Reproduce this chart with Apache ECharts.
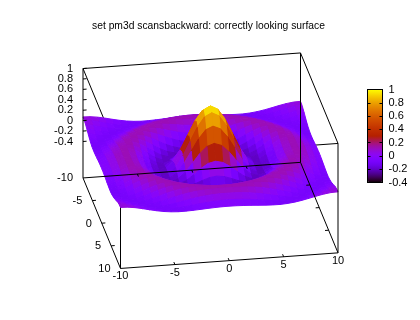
<!DOCTYPE html>
<html>
<head>
<meta charset="utf-8">
<style>html,body{margin:0;padding:0;background:#fff}#c{width:420px;height:320px}</style>
<script src="https://cdn.jsdelivr.net/npm/echarts@6/dist/echarts.min.js"></script>
</head>
<body>
<div id="c"></div>
<script>
// Surface heights read for one quadrant of the symmetric surface: rows from the centre outwards.
const zRow00=[1,.928,.729,.455,.171,-.057,-.189,-.214,-.152,-.047,.056,.118,.124,.079,.010,-.054];
const zRow01=[.928,.859,.669,.407,.139,-.075,-.195,-.212,-.147,-.040,.060,.120,.123,.077,.007,-.056];
const zRow02=[.729,.669,.504,.280,.054,-.121,-.209,-.204,-.129,-.022,.072,.124,.119,.070,0,-.061];
const zRow03=[.455,.407,.280,.109,-.057,-.175,-.217,-.184,-.097,.007,.090,.127,.112,.057,-.013,-.068];
const zRow04=[.171,.139,.054,-.057,-.156,-.212,-.207,-.147,-.053,.042,.109,.128,.099,.039,-.029,-.077];
const zRow05=[-.057,-.075,-.121,-.175,-.212,-.212,-.169,-.091,.001,.080,.124,.122,.079,.015,-.047,-.085];
const zRow06=[-.189,-.195,-.209,-.217,-.207,-.169,-.104,-.022,.056,.111,.128,.105,.052,-.013,-.066,-.090];
const zRow07=[-.214,-.212,-.204,-.184,-.147,-.091,-.022,.047,.102,.127,.118,.077,.018,-.041,-.081,-.091];
const zRow08=[-.152,-.147,-.129,-.097,-.053,.001,.056,.102,.126,.123,.091,.039,-.020,-.067,-.090,-.083];
const zRow09=[-.047,-.040,-.022,.007,.042,.080,.111,.127,.123,.095,.049,-.005,-.054,-.085,-.090,-.067];
const zRow10=[.056,.060,.072,.090,.109,.124,.128,.118,.091,.049,0,-.047,-.080,-.091,-.078,-.043];
const zRow11=[.118,.120,.124,.127,.128,.122,.105,.077,.039,-.005,-.047,-.078,-.091,-.082,-.054,-.013];
const zRow12=[.124,.123,.119,.112,.099,.079,.052,.018,-.020,-.054,-.080,-.091,-.084,-.059,-.022,.019];
const zRow13=[.079,.077,.070,.057,.039,.015,-.013,-.041,-.067,-.085,-.091,-.082,-.059,-.025,.013,.047];
const zRow14=[.010,.007,0,-.013,-.029,-.047,-.066,-.081,-.090,-.090,-.078,-.054,-.022,.013,.045,.066];
const zRow15=[-.054,-.056,-.061,-.068,-.077,-.085,-.090,-.091,-.083,-.067,-.043,-.013,.019,.047,.066,.071];
const zRows=[zRow00,zRow01,zRow02,zRow03,zRow04,zRow05,zRow06,zRow07,zRow08,zRow09,zRow10,zRow11,zRow12,zRow13,zRow14,zRow15];

const xTicks=[-10,-5,0,5,10];
const yTicks=[-10,-5,0,5,10];
const zTicks=[-0.4,-0.2,0,0.2,0.4,0.6,0.8,1];
const titleText='set pm3d scansbackward: correctly looking surface';

const FONT='"Liberation Sans", Arial, sans-serif';
const BASE=-1.1, ZTOP=1, XYMAX=10, N=30;

// Orthographic 3D view mapped on the full-page hidden cartesian axes
function project(x,y,z){
  return [210.5+10.875*x+1.875*y, 215.4-0.78*x+4.525*y-(z-BASE)*52.1];
}
function sample(i){return -XYMAX+i*2*XYMAX/N;}
function zAt(i,j){return zRows[Math.abs(j-N/2)][Math.abs(i-N/2)];}

// Quads back to front (scansbackward)
const quads=[];
for(let j=0;j<N;j++){
  for(let i=N-1;i>=0;i--){
    quads.push([i,j,(zAt(i,j)+zAt(i+1,j)+zAt(i+1,j+1)+zAt(i,j+1))/4]);
  }
}

const M=XYMAX;
const backEdges=[
  [-M,-M,ZTOP,M,-M,ZTOP],[M,-M,ZTOP,M,M,ZTOP],[M,M,ZTOP,-M,M,ZTOP],[-M,M,ZTOP,-M,-M,ZTOP],
  [-M,M,BASE,-M,M,ZTOP]
];
const frontEdges=[
  [-M,-M,BASE,M,-M,BASE],[M,-M,BASE,M,M,BASE],[M,M,BASE,-M,M,BASE],[-M,M,BASE,-M,-M,BASE],
  [-M,-M,BASE,-M,-M,ZTOP],[M,-M,BASE,M,-M,ZTOP],[M,M,BASE,M,M,ZTOP]
];
xTicks.slice(1,-1).forEach(v=>{
  frontEdges.push([v,M,BASE,v,M-0.55,BASE]);
  frontEdges.push([v,-M,BASE,v,-M+0.55,BASE]);
});
yTicks.slice(1,-1).forEach(v=>{
  frontEdges.push([-M,v,BASE,-M+0.33,v,BASE]);
  frontEdges.push([M,v,BASE,M-0.33,v,BASE]);
});
zTicks.concat([]).forEach(v=>{
  frontEdges.push([-M,-M,v,-M+0.33,-M,v]);
});

const labels=[];
zTicks.forEach(v=>labels.push({t:String(v),p:project(-M,-M,v),dx:-10,dy:0,a:'right'}));
yTicks.forEach(v=>labels.push({t:String(v),p:project(-M,v,BASE),dx:-10,dy:0.5,a:'right'}));
xTicks.forEach(v=>labels.push({t:String(v),p:project(v,M,BASE),dx:0,dy:8,a:'center'}));

function lineRender(params,api){
  const a=project(api.value(0),api.value(1),api.value(2));
  const b=project(api.value(3),api.value(4),api.value(5));
  const p=api.coord(a),q=api.coord(b);
  return {type:'line',shape:{x1:p[0],y1:p[1],x2:q[0],y2:q[1]},style:{stroke:'#000',lineWidth:1}};
}
function quadRender(params,api){
  const i=api.value(0),j=api.value(1);
  const pts=[[i,j],[i+1,j],[i+1,j+1],[i,j+1]].map(c=>api.coord(project(sample(c[0]),sample(c[1]),zAt(c[0],c[1]))));
  const col=api.visual('color');
  return {type:'polygon',shape:{points:pts},style:{fill:col,stroke:col,lineWidth:1,lineJoin:'round'}};
}
function labelRender(params,api){
  const l=labels[params.dataIndex];
  const p=api.coord(l.p);
  return {type:'text',style:{text:l.t,x:p[0]+l.dx,y:p[1]+l.dy,align:l.a,verticalAlign:'middle',font:'11px '+FONT,fill:'#000'}};
}
function palette(g){
  const r=Math.sqrt(g),gr=g*g*g,b=Math.max(0,Math.sin(2*Math.PI*g));
  const h=v=>Math.round(Math.min(1,v)*255);
  return 'rgb('+h(r)+','+h(gr)+','+h(b)+')';
}
const paletteStops=[];
for(let k=0;k<=64;k++)paletteStops.push(palette(k/64));

const common={type:'custom',coordinateSystem:'cartesian2d',xAxisIndex:0,yAxisIndex:0,silent:true,animation:false,clip:false,progressive:0};
const chart=echarts.init(document.getElementById('c'),null,{renderer:'canvas'});
chart.setOption({
  animation:false,
  backgroundColor:'#fff',
  title:{text:titleText,left:208.5,textAlign:'center',top:21,padding:0,textStyle:{fontFamily:FONT,fontSize:10.3,fontWeight:'normal',color:'#000'}},
  grid:[
    {left:0,top:0,width:420,height:320,show:false},
    {left:367.5,top:89.5,width:15,height:93,show:true,borderColor:'#000',borderWidth:1,backgroundColor:'transparent',z:10}
  ],
  xAxis:[
    {type:'value',gridIndex:0,min:0,max:420,show:false},
    {type:'value',gridIndex:1,min:0,max:1,show:false}
  ],
  yAxis:[
    {type:'value',gridIndex:0,min:0,max:320,inverse:true,show:false},
    {type:'value',gridIndex:1,position:'left',min:-0.4,max:1,interval:0.2,z:10,
      axisLine:{onZero:false,lineStyle:{color:'#000'}},axisTick:{inside:true,length:3,lineStyle:{color:'#000'}},axisLabel:{show:false},splitLine:{show:false}},
    {type:'value',gridIndex:1,position:'right',min:-0.4,max:1,interval:0.2,z:10,
      axisLine:{onZero:false,lineStyle:{color:'#000'}},axisTick:{inside:true,length:3,lineStyle:{color:'#000'}},splitLine:{show:false},
      axisLabel:{margin:6,color:'#000',fontFamily:FONT,fontSize:11,align:'left',showMinLabel:true,showMaxLabel:true,hideOverlap:false}}
  ],
  visualMap:{type:'continuous',seriesIndex:1,dimension:2,min:-0.4,max:1,calculable:false,show:true,
    left:367.5,top:89.5,padding:0,itemWidth:15,itemHeight:93,text:null,showLabel:false,z:1,
    inRange:{color:paletteStops},textStyle:{color:'transparent',fontSize:1},borderWidth:0,hoverLink:false,realtime:false},
  series:[
    Object.assign({},common,{name:'back box',z:1,data:backEdges,renderItem:lineRender}),
    Object.assign({},common,{name:'surface',z:2,data:quads,renderItem:quadRender}),
    Object.assign({},common,{name:'front box',z:3,data:frontEdges,renderItem:lineRender}),
    Object.assign({},common,{name:'tick labels',z:4,data:labels.map((l,i)=>[i]),renderItem:labelRender})
  ]
});
</script>
</body>
</html>
